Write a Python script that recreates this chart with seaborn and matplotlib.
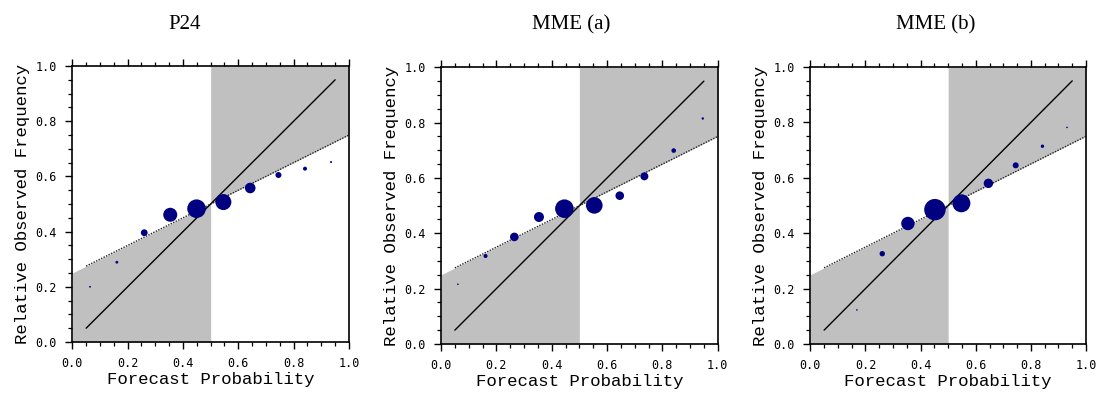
import numpy as np
import pandas as pd
import matplotlib
matplotlib.use("Agg")
import matplotlib.pyplot as plt
import seaborn as sns

# ---- data ----
titles = ["P24", "MME (a)", "MME (b)"]

p24_prob = [0.064, 0.161, 0.260, 0.354, 0.449, 0.546, 0.643, 0.745, 0.841, 0.935]
p24_freq = [0.200, 0.289, 0.396, 0.461, 0.483, 0.507, 0.558, 0.605, 0.628, 0.652]
p24_weight = [0.9, 1.4, 3.4, 7.0, 9.3, 8.0, 5.3, 3.0, 2.0, 1.0]

mmea_prob = [0.061, 0.161, 0.265, 0.354, 0.446, 0.554, 0.646, 0.735, 0.841, 0.946]
mmea_freq = [0.216, 0.318, 0.387, 0.459, 0.489, 0.501, 0.536, 0.606, 0.699, 0.815]
mmea_weight = [0.8, 2.0, 4.3, 5.0, 9.3, 8.3, 4.3, 4.0, 2.3, 1.2]

mmeb_prob = [0.169, 0.261, 0.354, 0.452, 0.548, 0.646, 0.745, 0.842, 0.931]
mmeb_freq = [0.123, 0.326, 0.435, 0.485, 0.508, 0.580, 0.645, 0.714, 0.782]
mmeb_weight = [0.8, 2.7, 6.7, 10.7, 9.0, 4.7, 3.0, 1.7, 0.8]

climatology = 0.5
diag_range = [0.05, 0.95]
noskill_range = [0.05, 1.0]

xlabel = "Forecast Probability"
ylabel = "Relative Observed Frequency"
tick_vals = [0.0, 0.2, 0.4, 0.6, 0.8, 1.0]
tick_labels = ["0.0", "0.2", "0.4", "0.6", "0.8", "1.0"]

panels = [
    (p24_prob, p24_freq, p24_weight),
    (mmea_prob, mmea_freq, mmea_weight),
    (mmeb_prob, mmeb_freq, mmeb_weight),
]

# ---- styling ----
sns.set_theme(style="ticks")
plt.rcParams["font.family"] = ["DejaVu Sans"]
plt.rcParams["text.color"] = "black"
plt.rcParams["axes.labelcolor"] = "black"
plt.rcParams["xtick.color"] = "black"
plt.rcParams["ytick.color"] = "black"

W, H = 1099, 396
fig = plt.figure(figsize=(W / 100, H / 100), dpi=100)

# axes boxes in pixels: left, top, right, bottom
boxes = [(72.3, 66.0, 349.0, 342.0), (441.0, 67.3, 717.7, 344.0), (810.3, 67.0, 1086.0, 344.0)]
title_x = [185, 571, 936]

GREY = "#c0c0c0"
NAVY = "#000080"

all_w = p24_weight + mmea_weight + mmeb_weight
wmin, wmax = min(all_w), max(all_w)


def area(r):
    # marker area (pt^2) from radius in px
    return (2 * r * 0.72) ** 2


for i, ((px, py, pw), (l, t, r, b)) in enumerate(zip(panels, boxes)):
    ax = fig.add_axes([l / W, 1 - b / H, (r - l) / W, (b - t) / H])
    ax.set_xlim(0, 1)
    ax.set_ylim(0, 1)

    # no-skill shading
    xs = np.array([0.0, climatology])
    ax.fill_between(xs, 0, climatology / 2 + xs / 2, color=GREY, lw=0, zorder=1)
    xs2 = np.array([climatology, 1.0])
    ax.fill_between(xs2, climatology / 2 + xs2 / 2, 1, color=GREY, lw=0, zorder=1)

    # diagonal
    dline = pd.DataFrame({"x": diag_range, "y": diag_range})
    sns.lineplot(data=dline, x="x", y="y", ax=ax, color="black", lw=1.0, zorder=2)
    # no-skill line
    nx = np.array(noskill_range)
    nline = pd.DataFrame({"x": nx, "y": climatology / 2 + nx / 2})
    sns.lineplot(data=nline, x="x", y="y", ax=ax, color="#222222", lw=1.0,
                 linestyle=(0, (1, 1)), zorder=2)

    df = pd.DataFrame({"prob": px, "freq": py, "s": [area(w) for w in pw]})
    sns.scatterplot(data=df, x="prob", y="freq", size="s",
                    sizes=(area(wmin), area(wmax)),
                    size_norm=(area(wmin), area(wmax)),
                    color=NAVY, edgecolor="none", linewidth=0,
                    legend=False, ax=ax, zorder=3)

    ax.set_xticks(tick_vals)
    ax.set_xticklabels(tick_labels, family="DejaVu Sans Mono")
    ax.set_yticks(tick_vals)
    ax.set_yticklabels(tick_labels, family="DejaVu Sans Mono")
    ax.set_xticks(np.arange(0, 1.0001, 0.05), minor=True)
    ax.set_yticks(np.arange(0, 1.0001, 0.05), minor=True)
    ax.tick_params(which="major", direction="out", length=5, width=1.0,
                   labelsize=8.5, pad=6, top=True, right=False, color="black",
                   labelcolor="black")
    ax.tick_params(which="minor", direction="out", length=3, width=0.9,
                   top=True, right=False, color="black")
    ax.tick_params(axis="y", which="major", pad=6)
    for s in ax.spines.values():
        s.set_visible(True)
        s.set_linewidth(1.2)
        s.set_color("black")

    ax.set_xlabel(xlabel, family="Liberation Mono", fontsize=12.5, labelpad=1)
    ax.set_ylabel(ylabel, family="Liberation Mono", fontsize=12.5, labelpad=4)

    fig.text(title_x[i] / W, 1 - 29 / H, titles[i], family="Liberation Serif",
             fontsize=15, ha="center", va="baseline", color="black")

fig.savefig("out.png", dpi=100)
